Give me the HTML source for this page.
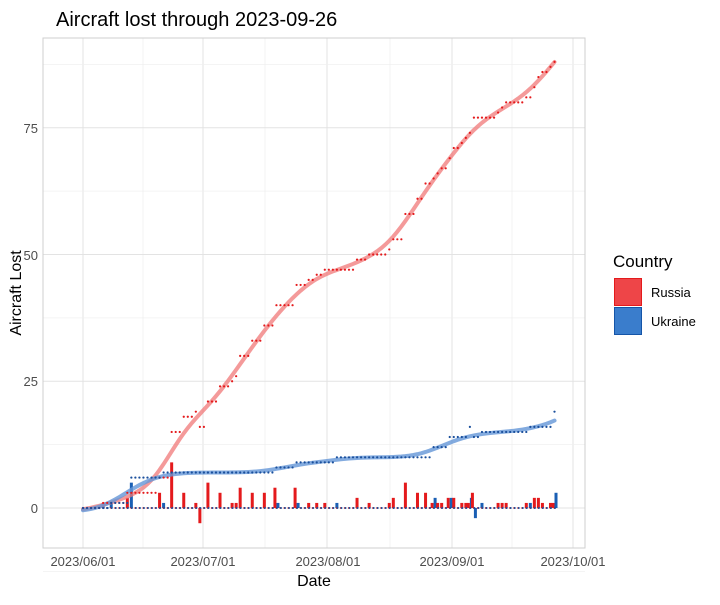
<!DOCTYPE html>
<html><head><meta charset="utf-8"><style>
body{margin:0;background:#fff;font-family:"Liberation Sans",sans-serif}
</style></head><body>
<svg id="s" width="720" height="600" xmlns="http://www.w3.org/2000/svg" font-family="Liberation Sans, sans-serif">
<rect width="720" height="600" fill="#fff"/>
<text x="56" y="26" font-size="20" fill="#000">Aircraft lost through 2023-09-26</text>
<g id="grid"></g>
<rect x="43" y="38" width="542" height="510" fill="none" stroke="#cfcfcf" stroke-width="1"/>
<g id="data"></g>
<g font-size="13" fill="#4d4d4d" text-anchor="end">
<text x="38" y="513">0</text><text x="38" y="386">25</text><text x="38" y="260">50</text><text x="38" y="133">75</text>
</g>
<g font-size="13" fill="#4d4d4d" text-anchor="middle">
<text x="83" y="566">2023/06/01</text><text x="203" y="566">2023/07/01</text><text x="328" y="566">2023/08/01</text><text x="452" y="566">2023/09/01</text><text x="573" y="566">2023/10/01</text>
</g>
<text x="314" y="586" font-size="16" text-anchor="middle">Date</text>
<text transform="translate(21,293) rotate(-90)" font-size="16" text-anchor="middle">Aircraft Lost</text>
<text x="613" y="267" font-size="17">Country</text>
<rect x="614.5" y="278.5" width="27" height="27" fill="#ee4548" stroke="#e41a1c"/>
<rect x="614.5" y="307.5" width="27" height="27" fill="#3a7dcc" stroke="#1555a8"/>
<text x="651" y="297" font-size="13">Russia</text>
<text x="651" y="326" font-size="13">Ukraine</text>
</svg>
<script>
const NS="http://www.w3.org/2000/svg";
const X=d=>83+4.03*d, Y=v=>508-v*5.07;
function el(p,t,a){const e=document.createElementNS(NS,t);for(const k in a)e.setAttribute(k,a[k]);p.appendChild(e);return e;}
const g=document.getElementById('grid');
[[83,1],[143,.5],[203,1],[265,.5],[327,1],[390,.5],[452,1],[512,.5],[573,1]].forEach(([x,w])=>el(g,'line',{x1:x,x2:x,y1:38,y2:548,stroke:w==1?'#e3e3e3':'#f0f0f0','stroke-width':w==1?1:0.8}));
[-12.5,0,12.5,25,37.5,50,62.5,75,87.5].forEach((v,i)=>el(g,'line',{x1:43,x2:585,y1:Y(v),y2:Y(v),stroke:(v%25==0)?'#e3e3e3':'#f0f0f0','stroke-width':(v%25==0)?1:0.8}));
const N=117;
const R=new Array(N+1).fill(0),U=new Array(N+1).fill(0);
[[5,1],[11,2],[19,3],[22,9],[25,3],[28,1],[29,-3],[31,5],[34,3],[37,1],[38,1],[39,4],[42,3],[45,3],[48,4],[53,4],[56,1],[58,1],[60,1],[68,2],[71,1],[76,1],[77,2],[80,5],[83,3],[85,3],[87,1],[88,1],[89,1],[91,2],[92,2],[94,1],[95,1],[96,1],[97,3],[103,1],[104,1],[105,1],[110,1],[112,2],[113,2],[114,1],[116,1],[117,1]].forEach(([d,v])=>R[d]+=v);
[[7,1],[12,5],[20,1],[48,1],[53,1],[63,1],[87,2],[91,2],[96,2],[97,-2],[99,1],[111,1],[117,3]].forEach(([d,v])=>U[d]+=v);
const dg=document.getElementById('data');
function cum(a){let s=0;return a.map(v=>s+=v);}
const RC=cum(R),UC=cum(U);
function smooth(c,sig){const o=[];for(let i=0;i<=N;i++){let sw=0,sx=0,sy=0,sxx=0,sxy=0;for(let j=0;j<=N;j++){const w=Math.exp(-((j-i)**2)/(2*sig*sig));sw+=w;sx+=w*j;sy+=w*c[j];sxx+=w*j*j;sxy+=w*j*c[j];}const mx=sx/sw,my=sy/sw;const b=(sxy/sw-mx*my)/(sxx/sw-mx*mx);o.push(my+b*(i-mx));}return o;}
function line(c,col){el(dg,'polyline',{points:c.map((v,i)=>X(i)+','+Y(v)).join(' '),fill:'none',stroke:col,'stroke-width':4,'stroke-linecap':'round'});}
const bw=3;
for(let d=0;d<=N;d++){
 if(R[d]){const y0=Y(0),y1=Y(R[d]);el(dg,'rect',{x:X(d)-bw/2-(U[d]?1.5:0),y:Math.min(y0,y1),width:bw,height:Math.abs(y1-y0),fill:'#e41a1c'});}
 if(U[d]){const y0=Y(0),y1=Y(U[d]);el(dg,'rect',{x:X(d)-bw/2+(R[d]?1.5:0),y:Math.min(y0,y1),width:bw,height:Math.abs(y1-y0),fill:'#1a5fb4'});}
}
for(let d=0;d<=N;d++){el(dg,'circle',{cx:X(d),cy:Y(0),r:1,fill:'#e41a1c'});el(dg,'circle',{cx:X(d)+0.5,cy:Y(0),r:1,fill:'#1a4f9c'});}
line(smooth(RC,4.5),'rgba(240,120,120,0.75)');
line(smooth(UC,5),'rgba(100,150,215,0.8)');
for(let d=0;d<=N;d++){el(dg,'circle',{cx:X(d),cy:Y(RC[d]),r:1.1,fill:'#e41a1c'});el(dg,'circle',{cx:X(d),cy:Y(UC[d]),r:1.1,fill:'#1a4f9c'});}
</script>
</body></html>
